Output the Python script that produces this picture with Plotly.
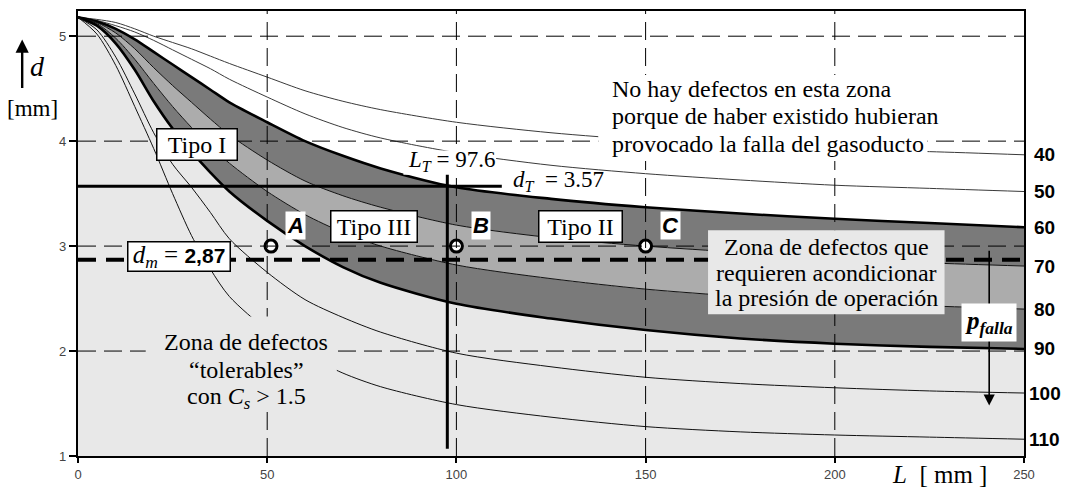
import plotly.graph_objects as go

# Defect length L [mm] at which each iso-pressure curve is sampled
L = [0, 5, 10, 15, 20, 25, 30, 35, 40, 50, 60, 70, 80, 100, 125, 150, 175, 200, 225, 250]

# Defect depth d [mm] of the failure-pressure curves (p_falla = 40 ... 110)
d_p40 = [5.18, 5.16, 5.13, 5.07, 5.00, 4.94, 4.88, 4.81, 4.74, 4.61, 4.48, 4.38, 4.30, 4.18, 4.08, 4.01, 3.96, 3.92, 3.90, 3.87]
d_p50 = [5.18, 5.15, 5.10, 5.04, 4.96, 4.87, 4.78, 4.69, 4.59, 4.42, 4.26, 4.13, 4.03, 3.89, 3.77, 3.69, 3.63, 3.58, 3.55, 3.52]
d_p60 = [5.18, 5.14, 5.07, 4.97, 4.85, 4.73, 4.61, 4.49, 4.37, 4.18, 4.00, 3.86, 3.74, 3.56, 3.45, 3.37, 3.31, 3.26, 3.22, 3.18]
d_p70 = [5.18, 5.13, 5.03, 4.88, 4.70, 4.53, 4.37, 4.21, 4.06, 3.82, 3.62, 3.48, 3.37, 3.20, 3.08, 3.00, 2.94, 2.88, 2.84, 2.81]
d_p80 = [5.18, 5.12, 4.98, 4.78, 4.55, 4.33, 4.13, 3.95, 3.79, 3.52, 3.30, 3.13, 3.00, 2.82, 2.69, 2.59, 2.52, 2.46, 2.43, 2.40]
d_p90 = [5.18, 5.10, 4.93, 4.68, 4.38, 4.12, 3.90, 3.70, 3.52, 3.24, 3.00, 2.80, 2.65, 2.45, 2.31, 2.20, 2.12, 2.07, 2.04, 2.02]
d_p100 = [5.18, 5.06, 4.80, 4.45, 4.08, 3.78, 3.56, 3.32, 3.07, 2.75, 2.49, 2.32, 2.18, 1.98, 1.85, 1.75, 1.69, 1.65, 1.62, 1.60]
d_p110 = [5.18, 5.02, 4.72, 4.33, 3.93, 3.50, 3.10, 2.78, 2.52, 2.20, 1.97, 1.79, 1.66, 1.49, 1.37, 1.28, 1.23, 1.20, 1.18, 1.16]

pressures = [40, 50, 60, 70, 80, 90, 100, 110]
curves = [d_p40, d_p50, d_p60, d_p70, d_p80, d_p90, d_p100, d_p110]

# Transition values and maximum admissible depth
L_T = 97.6
d_T = 3.57
d_m = 2.87
d_T_line_L = [0, 112]
L_T_line_d = [1.07, 3.69]

# Example defects A, B, C
pt_names = ["A", "B", "C"]
pt_L = [51, 100, 150]
pt_d = [3.0, 3.0, 3.0]

x_range = [0, 250]
y_range = [1, 5.24]
x_ticks = [0, 50, 100, 150, 200, 250]
y_ticks = [1, 2, 3, 4, 5]
grid_L = [50, 100, 150, 200]
grid_d = [2, 3, 4, 5]

SERIF = "Liberation Serif, Times New Roman, serif"
SANS = "Liberation Sans, Arial, sans-serif"
DARK = "#7a7a7a"
MID = "#acacac"
LIGHT = "#e8e8e8"
SMOOTH = 0.8

fig = go.Figure()

# Shaded zones: tolerable (below p=90), and the banded conditioning zone 60-90
fig.add_trace(go.Scatter(x=L, y=d_p90, mode="lines", fill="tozeroy", fillcolor=LIGHT,
                         line=dict(width=0, shape="spline", smoothing=SMOOTH), hoverinfo="skip"))
fig.add_trace(go.Scatter(x=L, y=d_p80, mode="lines", fill="tonexty", fillcolor=DARK,
                         line=dict(width=0, shape="spline", smoothing=SMOOTH), hoverinfo="skip"))
fig.add_trace(go.Scatter(x=L, y=d_p70, mode="lines", fill="tonexty", fillcolor=MID,
                         line=dict(width=0, shape="spline", smoothing=SMOOTH), hoverinfo="skip"))
fig.add_trace(go.Scatter(x=L, y=d_p60, mode="lines", fill="tonexty", fillcolor=DARK,
                         line=dict(width=0, shape="spline", smoothing=SMOOTH), hoverinfo="skip"))

# Iso-pressure curves
for p, d in zip(pressures, curves):
    if p in (60, 90):
        ln = dict(color="black", width=2.6)
    elif p in (40, 50):
        ln = dict(color="#3a3a3a", width=1)
    else:
        ln = dict(color="#111111", width=1)
    ln.update(shape="spline", smoothing=SMOOTH)
    fig.add_trace(go.Scatter(x=L, y=d, mode="lines", line=ln, hoverinfo="skip"))

# d_T horizontal and L_T vertical lines
fig.add_trace(go.Scatter(x=d_T_line_L, y=[d_T, d_T], mode="lines",
                         line=dict(color="black", width=3), hoverinfo="skip"))
fig.add_trace(go.Scatter(x=[L_T, L_T], y=L_T_line_d, mode="lines",
                         line=dict(color="black", width=3), hoverinfo="skip"))
# d_m dashed line
fig.add_trace(go.Scatter(x=x_range, y=[d_m, d_m], mode="lines",
                         line=dict(color="black", width=4, dash="18px,10px"), hoverinfo="skip"))
# defect markers
fig.add_trace(go.Scatter(x=pt_L, y=pt_d, mode="markers",
                         marker=dict(symbol="circle", size=12, color="white",
                                     line=dict(color="black", width=3)),
                         hoverinfo="skip"))

shapes = []
# dashed grid drawn over the shaded zones
for g in grid_L:
    shapes.append(dict(type="line", xref="x", yref="paper", x0=g, x1=g, y0=0, y1=1,
                       line=dict(color="black", width=1, dash="18px,8px"), layer="above"))
for g in grid_d:
    shapes.append(dict(type="line", xref="paper", yref="y", x0=0, x1=1, y0=g, y1=g,
                       line=dict(color="black", width=1, dash="18px,8px"), layer="above"))
# text backgrounds
shapes.append(dict(type="rect", xref="x", yref="y", x0=137.5, x1=224.5, y0=3.81, y1=4.63,
                   fillcolor="white", line=dict(width=0), layer="above"))
shapes.append(dict(type="rect", xref="x", yref="y", x0=166.5, x1=229.0, y0=2.35, y1=3.15,
                   fillcolor=LIGHT, line=dict(width=0), layer="above"))
shapes.append(dict(type="rect", xref="x", yref="y", x0=17.9, x1=68.4, y0=1.46, y1=2.33,
                   fillcolor=LIGHT, line=dict(width=0), layer="above"))
shapes.append(dict(type="rect", xref="x", yref="y", x0=86.0, x1=110.5, y0=3.68, y1=3.91,
                   fillcolor="white", line=dict(width=0), layer="above"))

ann = []

def txt(x, y, text, size=24, xanchor="center", family=SERIF, **kw):
    ann.append(dict(x=x, y=y, xref=kw.pop("xref", "x"), yref=kw.pop("yref", "y"), text=text,
                    showarrow=False, xanchor=xanchor, yanchor="middle",
                    font=dict(family=family, size=size, color="black"), **kw))

boxed = dict(bgcolor="white", bordercolor="black", borderwidth=1.5, borderpad=0)

txt(31.4, 3.97, "Tipo I", 24, width=79, height=30, **boxed)
txt(78.2, 3.19, "Tipo III", 24, width=85, height=30, **boxed)
txt(132.8, 3.19, "Tipo II", 24, width=82, height=30, **boxed)
d_m_txt = f"{d_m:.2f}".replace(".", ",")
txt(26.7, 2.905, f"<i>d</i><sub><i>m</i></sub> = <b><span style='font-family:Liberation Sans;font-size:21px'>{d_m_txt}</span></b>",
    25, width=101, height=28, **boxed)

for nm, x0, y0 in zip(pt_names, pt_L, pt_d):
    ann.append(dict(x=x0, y=y0, xref="x", yref="y", text=f"<b><i>{nm}</i></b>", showarrow=False,
                    xshift=25, yshift=21, bgcolor="white", borderpad=1,
                    font=dict(family=SANS, size=22, color="black")))

for i, line in enumerate(["No hay defectos en esta zona",
                          "porque de haber existido hubieran",
                          "provocado la falla del gasoducto"]):
    txt(140.6, 4.50 - 0.265 * i, line, 24, xanchor="left")

for i, line in enumerate(["Zona de defectos que",
                          "requieren acondicionar",
                          "la presión de operación"]):
    txt(197.8, 2.99 - 0.243 * i, line, 24)

for i, line in enumerate(["Zona de defectos",
                          "\u201ctolerables\u201d",
                          "con <i>C<sub>s</sub></i> > 1.5"]):
    txt(44.4, 2.09 - 0.27 * i, line, 24)

txt(L_T + 1.0, 3.81, f"<i>L<sub>T</sub></i> = {L_T}", 23)
txt(127.0, 3.62, f"<i>d<sub>T</sub></i>  = {d_T}", 23)

# failure-pressure arrow with its label
ann.append(dict(x=240.8, y=1.48, ax=240.8, ay=2.97, xref="x", yref="y", axref="x", ayref="y",
                text="", showarrow=True, arrowhead=2, arrowsize=1.4, arrowwidth=1.6,
                arrowcolor="black"))
txt(240.7, 2.27, "<b><i>p</i></b><sub><b><i>falla</i></b></sub>", 25,
    bgcolor="white", borderpad=3)

# pressure labels at the right end of each curve
for p, d in zip(pressures, curves):
    ann.append(dict(x=1.022, y=d[-1], xref="paper", yref="y", text=f"<b>{p}</b>",
                    showarrow=False, xanchor="center", yanchor="middle",
                    font=dict(family=SANS, size=19, color="black")))

# axis titles
ann.append(dict(x=-0.059, y=0.936, xref="paper", yref="paper", ax=0, ay=50, text="",
                showarrow=True, arrowhead=2, arrowsize=1.1, arrowwidth=2.4, arrowcolor="black"))
txt(-0.0423, 0.876, "<i>d</i>", 28, xref="paper", yref="paper")
txt(-0.0476, 0.781, "[mm]", 23, xref="paper", yref="paper")
txt(0.911, -0.042, "<i>L</i>  [ mm ]", 25, xref="paper", yref="paper")

fig.update_layout(
    width=1068, height=491,
    margin=dict(l=78, r=44, t=9, b=29),
    paper_bgcolor="white", plot_bgcolor="white",
    showlegend=False,
    shapes=shapes, annotations=ann,
)
fig.update_xaxes(range=x_range, tickvals=x_ticks, showgrid=False, zeroline=False,
                 showline=True, linecolor="black", linewidth=2.4, mirror=True,
                 ticks="outside", ticklen=5, tickcolor="black", tickwidth=1.5,
                 tickfont=dict(family=SANS, size=13, color="#444"))
fig.update_yaxes(range=y_range, tickvals=y_ticks, showgrid=False, zeroline=False,
                 showline=True, linecolor="black", linewidth=2.4, mirror=True,
                 ticks="outside", ticklen=7, tickcolor="black", tickwidth=1.5,
                 tickfont=dict(family=SANS, size=13, color="#444"))

fig.write_html("out.html")
